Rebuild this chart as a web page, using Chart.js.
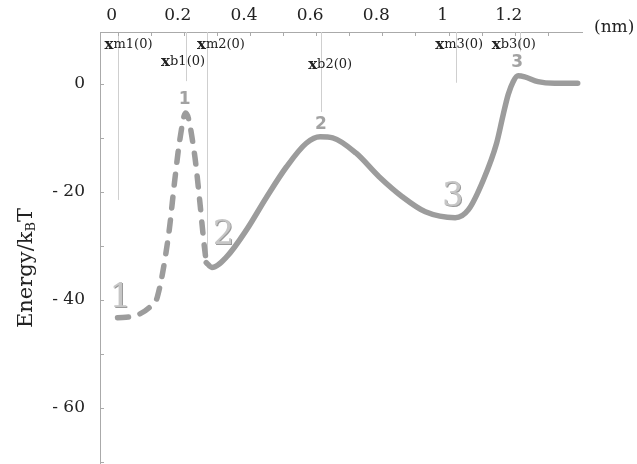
<!DOCTYPE html>
<html>
<head>
<meta charset="utf-8">
<script src="https://cdn.jsdelivr.net/npm/chart.js@4/dist/chart.umd.min.js"></script>
<style>
  html, body { margin: 0; padding: 0; background: #fff; }
  #wrap { width: 637px; height: 464px; position: relative; }
</style>
</head>
<body>
<div id="wrap"><canvas id="energyChart"></canvas></div>
<script>
// Energy profile (kBT) along the unbinding coordinate (nm)
const dashedX = [0, 0.05, 0.1, 0.12, 0.155, 0.172, 0.188, 0.206, 0.232, 0.248, 0.26, 0.268];
const dashedY = [-43.3, -43, -41.2, -39.5, -27.6, -18.3, -10.4, -5.4, -12.8, -21.5, -28.9, -33.1];
const solidX = [0.268, 0.285, 0.33, 0.39, 0.45, 0.51, 0.57, 0.612, 0.65, 0.72, 0.79, 0.86, 0.93, 1.02, 1.06, 1.105, 1.145, 1.165, 1.18, 1.195, 1.21, 1.23, 1.27, 1.32, 1.39];
const solidY = [-33.1, -34, -32, -27, -21, -15.4, -11, -9.8, -10, -12.8, -17.2, -20.9, -23.7, -24.8, -23.3, -17.8, -11, -5.7, -2, 0.4, 1.5, 1.3, 0.4, 0.1, 0.1];

// axis ticks
const xTickValues = [0, 0.1, 0.2, 0.3, 0.4, 0.5, 0.6, 0.7, 0.8, 0.9, 1.0, 1.1, 1.2, 1.3];
const xTickLabels = ['0', '', '0.2', '', '0.4', '', '0.6', '', '0.8', '', '1', '', '1.2', ''];
const yTickValues = [-70, -60, -50, -40, -30, -20, -10, 0];
const yTickLabels = ['', '- 60', '', '- 40', '', '- 20', '', '0'];

// minima / barrier positions at zero force
const markerNames = ['m1', 'b1', 'm2', 'b2', 'm3', 'b3'];
const markerX = [0, 0.207, 0.270, 0.615, 1.023, 1.215];
const markerEnd = [-21.5, 0.5, -31.7, -5.2, 0.2, 6];

// well and barrier numbers
const stateNames = ['1', '2', '3'];
const wellX = [0.008, 0.32, 1.013];
const wellY = [-39.6, -28, -20.9];
const barrierX = [0.203, 0.614, 1.207];
const barrierY = [-3, -7.6, 3.9];

const serif = '"DejaVu Serif", "Liberation Serif", serif';
const curveColor = '#9c9c9c';

const toPoints = (xs, ys) => xs.map((v, i) => ({ x: v, y: ys[i] }));

const annotations = {
  id: 'energyAnnotations',
  beforeDatasetsDraw(chart) {
    const { ctx, chartArea } = chart;
    const x = chart.scales.x, y = chart.scales.y;
    ctx.save();
    // vertical reference lines
    ctx.strokeStyle = '#cfcfcf';
    ctx.lineWidth = 1;
    markerX.forEach((mx, i) => {
      const px = Math.round(x.getPixelForValue(mx)) + 0.5;
      ctx.beginPath();
      ctx.moveTo(px, chartArea.top);
      ctx.lineTo(px, y.getPixelForValue(markerEnd[i]));
      ctx.stroke();
    });
    // small tick marks inside the axes
    ctx.strokeStyle = '#aaaaaa';
    x.ticks.forEach(t => {
      const px = Math.round(x.getPixelForValue(t.value)) + 0.5;
      ctx.beginPath();
      ctx.moveTo(px, chartArea.top);
      ctx.lineTo(px, chartArea.top + 4);
      ctx.stroke();
    });
    y.ticks.forEach(t => {
      const py = Math.round(y.getPixelForValue(t.value)) + 0.5;
      ctx.beginPath();
      ctx.moveTo(chartArea.left, py);
      ctx.lineTo(chartArea.left + 4, py);
      ctx.stroke();
    });
    ctx.restore();
  },
  afterDraw(chart) {
    const { ctx, chartArea } = chart;
    const x = chart.scales.x, y = chart.scales.y;
    ctx.save();
    ctx.textBaseline = 'middle';

    // x_m(0) / x_b(0) labels
    const labelDx = [11, -3, 14, 9, 3, -6];
    const labelDy = [13, 30, 13, 33, 13, 13];
    ctx.fillStyle = '#222';
    markerNames.forEach((name, i) => {
      const cx = x.getPixelForValue(markerX[i]) + labelDx[i];
      const cy = chartArea.top + labelDy[i];
      const parts = [
        { t: 'x', f: 'bold 15px ' + serif },
        { t: name, f: '13px ' + serif },
        { t: '(0)', f: '13px ' + serif }
      ];
      let total = 0;
      parts.forEach(p => { ctx.font = p.f; p.w = ctx.measureText(p.t).width; total += p.w; });
      let sx = cx - total / 2;
      ctx.textAlign = 'left';
      parts.forEach(p => { ctx.font = p.f; ctx.fillText(p.t, sx, cy); sx += p.w; });
    });

    // big well numbers
    ctx.textAlign = 'center';
    ctx.font = '34px ' + serif;
    stateNames.forEach((s, i) => {
      const px = x.getPixelForValue(wellX[i]);
      const py = y.getPixelForValue(wellY[i]);
      ctx.fillStyle = '#9a9a9a';
      ctx.fillText(s, px + 1, py + 1);
      ctx.fillStyle = '#c6c6c6';
      ctx.fillText(s, px, py);
    });

    // small barrier numbers
    ctx.font = 'bold 17px "DejaVu Sans", sans-serif';
    ctx.fillStyle = '#a2a2a2';
    stateNames.forEach((s, i) => {
      ctx.fillText(s, x.getPixelForValue(barrierX[i]), y.getPixelForValue(barrierY[i]));
    });

    // unit on the x axis
    ctx.fillStyle = '#222';
    ctx.textAlign = 'left';
    ctx.font = '17px ' + serif;
    ctx.fillText('(nm)', chartArea.right + 12, chartArea.top - 4);

    // y axis title with subscript B
    ctx.translate(25, 268);
    ctx.rotate(-Math.PI / 2);
    const big = '21px ' + serif, small = '13px ' + serif;
    ctx.font = big;
    const w1 = ctx.measureText('Energy/k').width;
    const w3 = ctx.measureText('T').width;
    ctx.font = small;
    const w2 = ctx.measureText('B').width;
    let sx = -(w1 + w2 + w3) / 2;
    ctx.textBaseline = 'alphabetic';
    ctx.font = big;
    ctx.fillText('Energy/k', sx, 7);
    ctx.font = small;
    ctx.fillText('B', sx + w1, 10);
    ctx.font = big;
    ctx.fillText('T', sx + w1 + w2, 7);
    ctx.restore();
  }
};

const chart = new Chart(document.getElementById('energyChart').getContext('2d'), {
  type: 'line',
  data: {
    datasets: [
      {
        data: toPoints(dashedX, dashedY),
        borderColor: curveColor,
        borderWidth: 5.5,
        borderDash: [11, 12],
        borderCapStyle: 'round',
        pointRadius: 0,
        cubicInterpolationMode: 'monotone',
        fill: false
      },
      {
        data: toPoints(solidX, solidY),
        borderColor: curveColor,
        borderWidth: 5.5,
        borderCapStyle: 'round',
        pointRadius: 0,
        cubicInterpolationMode: 'monotone',
        fill: false
      }
    ]
  },
  options: {
    responsive: true,
    maintainAspectRatio: false,
    devicePixelRatio: 1,
    animation: false,
    layout: { padding: { left: 0, right: 55, top: 0, bottom: 0 } },
    plugins: { legend: { display: false }, tooltip: { enabled: false } },
    scales: {
      x: {
        type: 'linear',
        position: 'top',
        min: -0.053,
        max: 1.403,
        afterBuildTicks: s => { s.ticks = xTickValues.map(v => ({ value: v })); },
        afterFit: s => { s.height = 32; s.paddingLeft = 0; s.paddingRight = 0; },
        grid: { drawOnChartArea: false, drawTicks: false },
        border: { color: '#aaaaaa' },
        ticks: {
          padding: 6,
          labelOffset: -6,
          maxRotation: 0,
          autoSkip: false,
          color: '#222',
          font: { family: serif, size: 17 },
          callback: (v, i) => xTickLabels[i]
        }
      },
      y: {
        type: 'linear',
        min: -70.4,
        max: 9.6,
        afterBuildTicks: s => { s.ticks = yTickValues.map(v => ({ value: v })); },
        afterFit: s => { s.width = 100; s.paddingTop = 0; s.paddingBottom = 0; },
        grid: { drawOnChartArea: false, drawTicks: false },
        border: { color: '#aaaaaa' },
        ticks: {
          padding: 15,
          autoSkip: false,
          color: '#222',
          font: { family: serif, size: 17 },
          callback: (v, i) => yTickLabels[i]
        }
      }
    }
  },
  plugins: [annotations]
});
</script>
</body>
</html>
